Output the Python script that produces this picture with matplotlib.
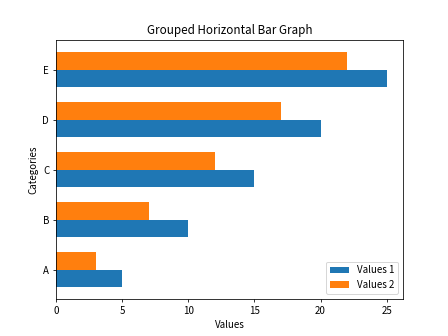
import matplotlib
matplotlib.use("Agg")
import matplotlib.pyplot as plt
import numpy as np

plt.rcParams['font.family'] = ['Noto Sans CJK SC', 'DejaVu Sans']

categories = ['A', 'B', 'C', 'D', 'E']
values1 = [5, 10, 15, 20, 25]
values2 = [3, 7, 12, 17, 22]

bar_height = 0.35
y = np.arange(len(categories))

fig, ax = plt.subplots(figsize=(6.4, 4.8), dpi=70)
ax.barh(y - bar_height / 2, values1, bar_height, label='Values 1')
ax.barh(y + bar_height / 2, values2, bar_height, label='Values 2')

ax.set_xlabel('Values')
ax.set_ylabel('Categories')
ax.set_title('Grouped Horizontal Bar Graph')
ax.set_yticks(y)
ax.set_yticklabels(categories)
ax.legend()

fig.savefig('out.png', dpi=70)
